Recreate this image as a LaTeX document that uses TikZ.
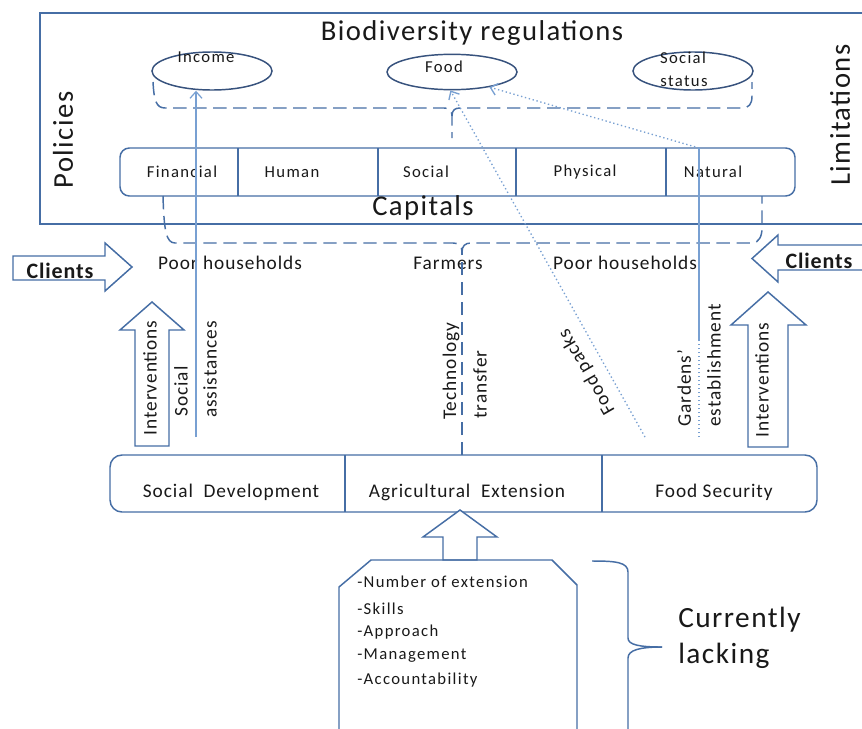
\documentclass[tikz,border=0pt]{standalone}
\usepackage{fontspec}
\setmainfont{Carlito}
\newfontfamily\bigf[LetterSpace=5]{Carlito}
\newfontfamily\medf[LetterSpace=5]{Carlito}
\newfontfamily\smf[LetterSpace=8]{Carlito}
\newfontfamily\clf[LetterSpace=4]{Carlito}
\usetikzlibrary{arrows.meta,shapes.geometric,calc}
\definecolor{lineblue}{RGB}{70,110,165}
\definecolor{darkblue}{RGB}{55,82,125}
\definecolor{thinblue}{RGB}{120,160,210}
\definecolor{txt}{RGB}{25,25,25}
\tikzset{
  frame/.style={draw=lineblue, line width=1.4pt},
  boxline/.style={draw=lineblue, line width=1.1pt},
  ell/.style={draw=darkblue, line width=1.1pt, ellipse, inner sep=0pt},
  bigtext/.style={font=\bigf\fontsize{21.5}{24}\selectfont, text=txt, inner sep=0pt},
  lacktext/.style={font=\bigf\fontsize{22}{27}\selectfont, text=txt, inner sep=0pt, align=left},
  medtext/.style={font=\medf\fontsize{14.5}{17}\selectfont, text=txt, inner sep=0pt},
  smtext/.style={font=\smf\fontsize{12.5}{14}\selectfont, text=txt, inner sep=0pt},
  clienttext/.style={font=\clf\bfseries\fontsize{16.5}{19}\selectfont, text=txt, inner sep=0pt},
  dashbrace/.style={draw=lineblue, line width=1.1pt, dash pattern=on 10pt off 5pt},
  thinarrow/.style={draw=thinblue, line width=0.9pt, -{Straight Barb[length=5pt,width=9pt]}},
  dotarrow/.style={draw=thinblue, line width=1pt, dotted, -{Straight Barb[length=5pt,width=9pt]}},
  blockarrow/.style={draw=lineblue, line width=1.1pt, fill=white, line join=miter},
}
\begin{document}
\begin{tikzpicture}[x=0.75pt, y=-0.75pt]
\clip (0,0) rectangle (862,728);
\fill[white] (0,0) rectangle (862,728);

% outer frame
\draw[frame] (40,13) rectangle (880,224);
\node[bigtext] (title) at (472,33) {Biodiversity regulations};
\node[bigtext, rotate=90] (policies) at (63,140) {Policies};
\node[bigtext, rotate=90] (limits) at (840,115) {Limitations};

% outcome ellipses
\node[ell, minimum width=90pt, minimum height=28.5pt] (ellInc) at (212,71) {};
\node[ell, minimum width=97.5pt, minimum height=26.5pt] (ellFood) at (452,72) {};
\node[ell, minimum width=90pt, minimum height=28.5pt] (ellSoc) at (693,71) {};
\node[smtext] (tInc) at (206,57) {Income};
\node[smtext] (tFood) at (444,67) {Food};
\node[smtext, align=center] (tSoc1) at (683,58) {Social};
\node[smtext, align=center] (tSoc2) at (684,81) {status};

% upper dashed brace
\coordinate (ubTip) at (452,116);
\coordinate (ubEnd) at (452,138);
\draw[dashbrace] (153,82) .. controls (154,100) and (156,108) .. (165,108) -- (444,108) .. controls (449,108) and (452,110) .. (ubTip) -- (ubEnd);
\draw[dashbrace] (ubTip) .. controls (452,110) and (455,108) .. (460,108) -- (742,108) .. controls (749,108) and (752,104) .. (752,96) -- (752,82);

% capitals box
\draw[boxline, rounded corners=7pt] (120,148) rectangle (795,196);
\draw[boxline] (238,148) -- (238,196);
\draw[boxline] (378,148) -- (378,196);
\draw[boxline] (516,148) -- (516,196);
\draw[boxline] (666,148) -- (666,196);
\node[smtext] (cFin) at (182,172) {Financial};
\node[smtext] (cHum) at (292,172) {Human};
\node[smtext] (cSoc) at (426,172) {Social};
\node[smtext] (cPhy) at (585,172) {Physical};
\node[smtext] (cNat) at (713,172) {Natural};
\node[bigtext] (capitals) at (423,208) {Capitals};

% lower dashed brace
\coordinate (lbTip) at (462,252);
\draw[dashbrace] (163,196) .. controls (164,230) and (166,243) .. (175,243) -- (453,243) .. controls (459,243) and (462,246) .. (lbTip);
\draw[dashbrace] (lbTip) .. controls (462,246) and (465,243) .. (471,243) -- (752,243) .. controls (759,243) and (762,236) .. (762,228) -- (762,196);

% clients arrows
\draw[blockarrow] (13,256) -- (105,256) -- (105,243) -- (132,267) -- (105,291) -- (105,280) -- (13,280) -- cycle;
\node[clienttext, anchor=base] (clL) at (60,278) {Clients};
\draw[blockarrow] (880,245) -- (778,245) -- (778,235) -- (752,258.5) -- (778,282) -- (778,270) -- (880,270) -- cycle;
\node[clienttext, anchor=base] (clR) at (819,268) {Clients};

% client groups
\node[medtext] (poorL) at (230,263) {Poor households};
\node[medtext] (farm) at (448,263) {Farmers};
\node[medtext] (poorR) at (625,263) {Poor households};

% interventions arrows
\draw[blockarrow] (135,446) -- (135,330) -- (120,330) -- (152,302) -- (184,330) -- (169,330) -- (169,446) -- cycle;
\node[medtext, rotate=90] (intL) at (150,378) {Interventions};
\draw[blockarrow] (748,447) -- (748,325) -- (731,325) -- (768,292) -- (806,325) -- (788,325) -- (788,447) -- cycle;
\node[medtext, rotate=90] (intR) at (762,380) {Interventions};

% bottom ministries box
\draw[boxline, rounded corners=9pt] (110,455) rectangle (817,512);
\draw[boxline] (345,455) -- (345,512);
\draw[boxline] (602,455) -- (602,512);
\node[medtext] (mSoc) at (231,492) {Social\ \ Development};
\node[medtext] (mAgr) at (467,492) {Agricultural\ \ Extension};
\node[medtext] (mFood) at (714,492) {Food Security};

% connectors
\coordinate (saStart) at (196,437);
\draw[thinarrow] (saStart) -- (saStart |- ellInc.south);
\node[medtext, rotate=90, anchor=west] (saT1) at (181,417) {Social};
\node[medtext, rotate=90, anchor=west] (saT2) at (210,418) {assistances};

\coordinate (ttStart) at (462,455);
\draw[dashbrace] (ttStart) -- (lbTip);
\node[medtext, rotate=90, anchor=west] (ttT1) at (451,420) {Technology};
\node[medtext, rotate=90, anchor=west] (ttT2) at (480,419) {transfer};

\coordinate (fpStart) at (645,437);
\draw[dotarrow] (fpStart) -- (ellFood.265);
\node[medtext, rotate=120] (fpT) at (587,372) {Food packs};

\coordinate (gStart) at (699,437);
\coordinate (gMid) at (699,340);
\coordinate (gTop) at (699,148);
\draw[draw=thinblue, line width=1pt, dotted] (gStart) -- (gMid);
\draw[draw=thinblue, line width=0.8pt] (gMid) -- (gTop);
\draw[dotarrow] (gTop) -- (ellFood.-22);
\node[medtext, rotate=90, anchor=west] (gT1) at (684,427) {Gardens’};
\node[medtext, rotate=90, anchor=west] (gT2) at (714,427) {establishment};

% lacking box and arrow
\draw[blockarrow] (443,560) -- (443,537) -- (423,537) -- (460,510) -- (497,537) -- (477,537) -- (477,560) -- cycle;
\draw[boxline, line join=miter] (339,740) -- (339,587) -- (371,560) -- (552,560) -- (577,585) -- (577,740);
\node[smtext, anchor=west] (l1) at (357,582) {-Number of extension};
\node[smtext, anchor=west] (l2) at (357,609) {-Skills};
\node[smtext, anchor=west] (l3) at (357,632) {-Approach};
\node[smtext, anchor=west] (l4) at (357,656) {-Management};
\node[smtext, anchor=west] (l5) at (357,680) {-Accountability};

\coordinate (brTop) at (592,561);
\coordinate (brTip) at (662,647);
\draw[boxline] (brTop) .. controls (615,561) and (628,562) .. (628,572) -- (628,638) .. controls (628,645) and (640,647) .. (brTip);
\draw[boxline] (brTip) .. controls (640,647) and (628,650) .. (628,658) -- (628,740);
\node[lacktext, anchor=west] (lack) at (678,638) {Currently\\lacking};
\end{tikzpicture}
\end{document}
